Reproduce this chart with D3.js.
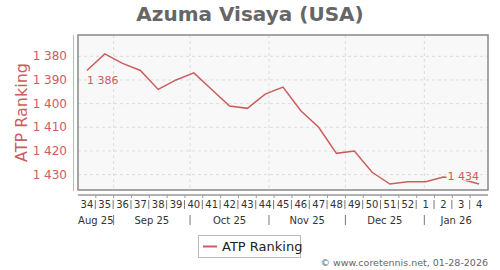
<!DOCTYPE html>
<html>
<head>
<meta charset="utf-8">
<script src="https://cdn.jsdelivr.net/npm/d3@7"></script>
<style>
  body { margin: 0; background: #fff; }
  svg { display: block; font-family: "DejaVu Sans", sans-serif; }
</style>
</head>
<body>
<div id="chart"></div>
<script>
// week labels and the Monday each ranking week starts
const weeks = ["34","35","36","37","38","39","40","41","42","43","44","45","46","47","48","49","50","51","52","1","2","3","4"];
const weekStarts = ["2025-08-18","2025-08-25","2025-09-01","2025-09-08","2025-09-15","2025-09-22","2025-09-29","2025-10-06","2025-10-13","2025-10-20","2025-10-27","2025-11-03","2025-11-10","2025-11-17","2025-11-24","2025-12-01","2025-12-08","2025-12-15","2025-12-22","2025-12-29","2026-01-05","2026-01-12","2026-01-19"];
const ranking = [1386,1379,1383,1386,1394,1390,1387,1394,1401,1402,1396,1393,1403,1410,1421,1420,1429,1434,1433,1433,1431,1432,1434];
const months = ["Aug 25","Sep 25","Oct 25","Nov 25","Dec 25","Jan 26"];
const monthStarts = ["2025-08-01","2025-09-01","2025-10-01","2025-11-01","2025-12-01","2026-01-01"];
const yTicks = [1380,1390,1400,1410,1420,1430];

const width = 500, height = 270;
const plot = { left: 78, right: 488, top: 35, bottom: 190 };
const red = "#cd5c5c";
const bg = "#f8f8f8";

const parse = d3.utcParse("%Y-%m-%d");
const startDates = weekStarts.map(parse);
const domainEnd = d3.utcDay.offset(startDates[startDates.length - 1], 7);

const x = d3.scaleUtc()
  .domain([startDates[0], domainEnd])
  .range([plot.left, plot.right]);
const y = d3.scaleLinear()
  .domain([1371, 1436.5])
  .range([plot.top, plot.bottom]);

const fmt = d3.formatLocale({ decimal: ".", thousands: " ", grouping: [3], currency: ["", ""] }).format(",d");

const svg = d3.select("#chart").append("svg")
  .attr("width", width)
  .attr("height", height);

// title
svg.append("text")
  .attr("x", 250).attr("y", 21)
  .attr("text-anchor", "middle")
  .attr("font-size", "20px")
  .attr("font-weight", "bold")
  .attr("fill", "#666")
  .text("Azuma Visaya (USA)");

// plot background
svg.append("rect")
  .attr("x", plot.left).attr("y", plot.top)
  .attr("width", plot.right - plot.left)
  .attr("height", plot.bottom - plot.top)
  .attr("fill", bg);

// horizontal grid
svg.selectAll(".hgrid")
  .data(yTicks)
  .enter().append("line")
  .attr("x1", plot.left).attr("x2", plot.right)
  .attr("y1", (d) => y(d)).attr("y2", (d) => y(d))
  .attr("stroke", "#ddd")
  .attr("stroke-dasharray", "3,3");

// vertical grid at month boundaries
const monthDates = monthStarts.map(parse);
const innerMonths = monthDates.filter((d) => d > startDates[0] && d < domainEnd);
svg.selectAll(".vgrid")
  .data(innerMonths)
  .enter().append("line")
  .attr("x1", (d) => x(d)).attr("x2", (d) => x(d))
  .attr("y1", plot.top).attr("y2", plot.bottom)
  .attr("stroke", "#ddd")
  .attr("stroke-dasharray", "3,3");

// frame
svg.append("rect")
  .attr("x", plot.left).attr("y", plot.top)
  .attr("width", plot.right - plot.left)
  .attr("height", plot.bottom - plot.top)
  .attr("fill", "none")
  .attr("stroke", "#888")
  .attr("stroke-width", 1.5);

// y axis
svg.append("line")
  .attr("x1", 73.5).attr("x2", 73.5)
  .attr("y1", plot.top).attr("y2", plot.bottom + 1)
  .attr("stroke", "#e0a8a8");
svg.selectAll(".ylab")
  .data(yTicks)
  .enter().append("text")
  .attr("x", 67)
  .attr("y", (d) => y(d))
  .attr("dy", "0.35em")
  .attr("text-anchor", "end")
  .attr("font-size", "12px")
  .attr("fill", red)
  .text((d) => fmt(d));
svg.append("text")
  .attr("transform", `translate(27,${(plot.top + plot.bottom) / 2}) rotate(-90)`)
  .attr("text-anchor", "middle")
  .attr("font-size", "16px")
  .attr("fill", red)
  .text("ATP Ranking");

// x axis
const axisY = 195;
svg.append("line")
  .attr("x1", plot.left).attr("x2", plot.right)
  .attr("y1", axisY).attr("y2", axisY)
  .attr("stroke", "#999")
  .attr("stroke-width", 1.5);
const weekBounds = startDates.slice(1);
svg.selectAll(".wtick")
  .data(weekBounds)
  .enter().append("line")
  .attr("x1", (d) => x(d)).attr("x2", (d) => x(d))
  .attr("y1", axisY).attr("y2", axisY + 3)
  .attr("stroke", "#999");
svg.selectAll(".wsep")
  .data(weekBounds)
  .enter().append("line")
  .attr("x1", (d) => x(d) - 0.5).attr("x2", (d) => x(d) - 0.5)
  .attr("y1", 200).attr("y2", 209)
  .attr("stroke", "#777");
svg.selectAll(".wlab")
  .data(weeks)
  .enter().append("text")
  .attr("x", (d, i) => x(d3.utcHour.offset(startDates[i], 84)))
  .attr("y", 208)
  .attr("text-anchor", "middle")
  .attr("font-size", "10px")
  .attr("fill", "#333")
  .text((d) => d);

// month labels and separators
svg.selectAll(".msep")
  .data(innerMonths)
  .enter().append("line")
  .attr("x1", (d) => x(d)).attr("x2", (d) => x(d))
  .attr("y1", 215).attr("y2", 225)
  .attr("stroke", "#777");
svg.selectAll(".mlab")
  .data(months)
  .enter().append("text")
  .attr("x", (d, i) => {
    const a = Math.max(plot.left, x(monthDates[i]));
    const b = i + 1 < monthDates.length ? Math.min(plot.right, x(monthDates[i + 1])) : plot.right;
    return (a + b) / 2;
  })
  .attr("y", 224)
  .attr("text-anchor", "middle")
  .attr("font-size", "10px")
  .attr("fill", "#333")
  .text((d) => d);

// ranking line
const points = ranking.map((v, i) => ({ date: d3.utcHour.offset(startDates[i], 84), value: v }));
svg.append("path")
  .datum(points)
  .attr("fill", "none")
  .attr("stroke", red)
  .attr("stroke-width", 1.5)
  .attr("d", d3.line().x((d) => x(d.date)).y((d) => y(d.value)));

// first / last value labels
const first = points[0], last = points[points.length - 1];
svg.append("text")
  .attr("x", x(first.date))
  .attr("y", y(first.value) + 14)
  .attr("font-size", "11px")
  .attr("fill", red)
  .text(fmt(first.value));
const lastY = y(last.value) - 4;
const lastLab = svg.append("text")
  .attr("x", x(last.date))
  .attr("y", lastY)
  .attr("text-anchor", "end")
  .attr("font-size", "11px")
  .attr("fill", red)
  .text(fmt(last.value));
const bb = lastLab.node().getBBox();
svg.insert("rect", () => lastLab.node())
  .attr("x", bb.x - 1).attr("y", lastY - 9)
  .attr("width", bb.width - 4).attr("height", 9.5)
  .attr("fill", bg);

// legend
const legend = svg.append("g").attr("transform", "translate(198,235)");
legend.append("rect")
  .attr("x", 0.5).attr("y", 0.5)
  .attr("width", 102).attr("height", 22)
  .attr("fill", "#fff")
  .attr("stroke", "#bbb");
legend.append("line")
  .attr("x1", 5).attr("x2", 19)
  .attr("y1", 11.5).attr("y2", 11.5)
  .attr("stroke", red)
  .attr("stroke-width", 2);
legend.append("text")
  .attr("x", 24).attr("y", 16)
  .attr("font-size", "13px")
  .attr("fill", "#222")
  .text("ATP Ranking");

// footer
svg.append("text")
  .attr("x", 488).attr("y", 266)
  .attr("text-anchor", "end")
  .attr("font-size", "9.5px")
  .attr("fill", "#666")
  .text("© www.coretennis.net, 01-28-2026");
</script>
</body>
</html>
